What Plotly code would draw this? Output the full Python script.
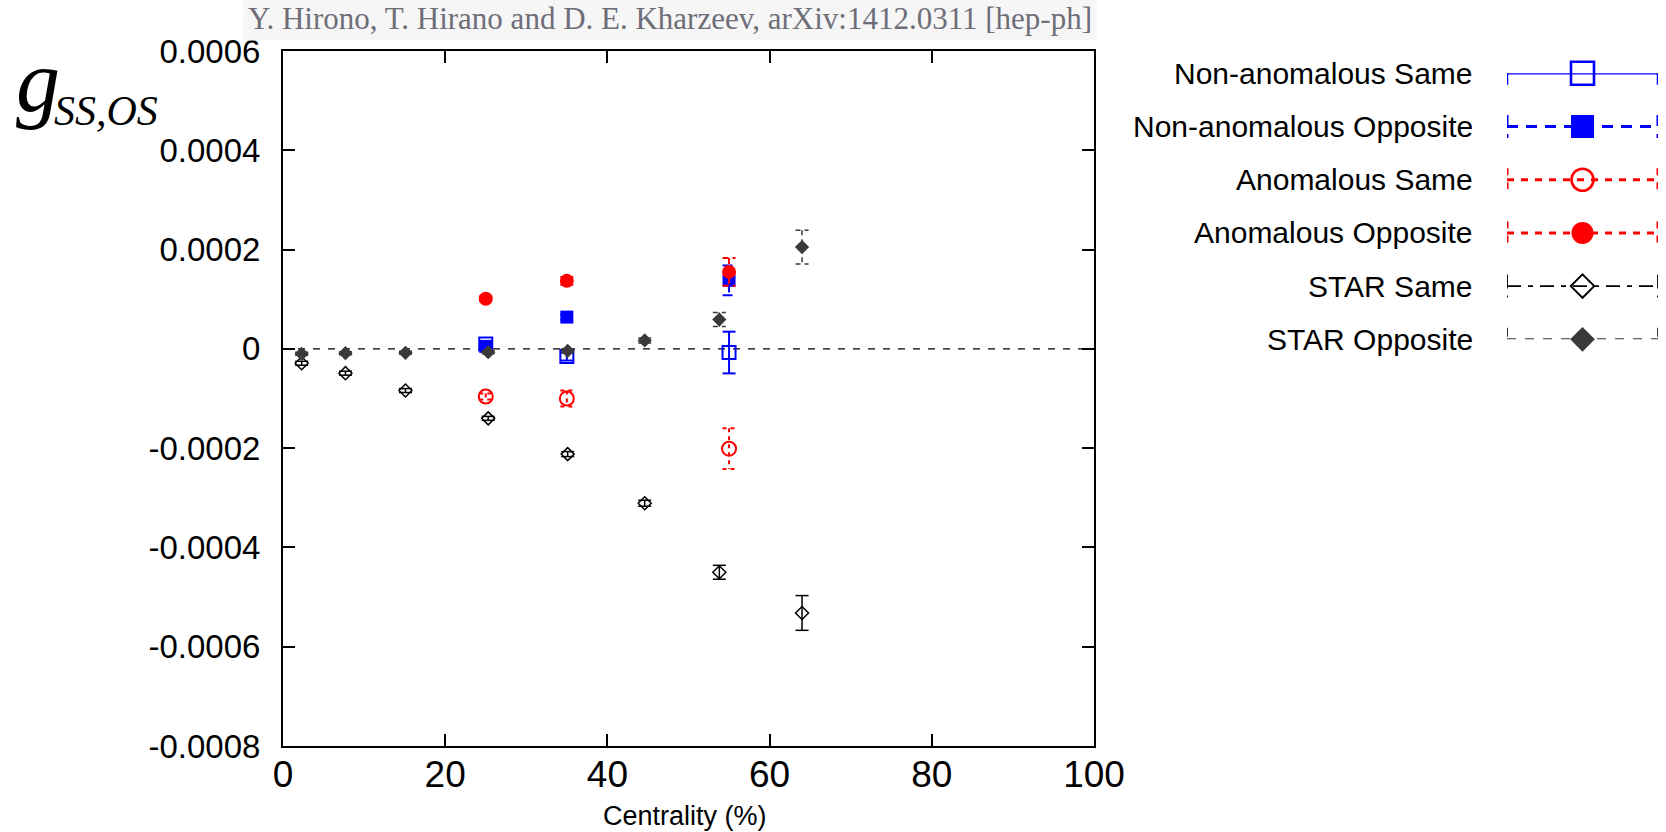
import plotly.graph_objects as go

W, H = 1666, 832

# ---- data -------------------------------------------------------------
star_cent = [2.3, 7.7, 15.1, 25.3, 35.1, 44.6, 53.8, 64.0]
star_same = [-2.9e-5, -4.9e-5, -8.4e-5, -1.40e-4, -2.12e-4, -3.11e-4, -4.50e-4, -5.32e-4]
star_same_err = [4e-6, 4e-6, 4e-6, 4e-6, 5e-6, 6e-6, 1.4e-5, 3.5e-5]
star_opp = [-1.0e-5, -8.7e-6, -8.0e-6, -6.7e-6, -4.0e-6, 1.7e-5, 5.9e-5, 2.05e-4]
star_opp_err = [3e-6, 3e-6, 3e-6, 3e-6, 4e-6, 5e-6, 1.4e-5, 3.4e-5]

model_cent = [25, 35, 55]
nonanom_same = [1.0e-5, -1.55e-5, -7.4e-6]
nonanom_same_err = [5e-6, 8e-6, 4.2e-5]
nonanom_opp = [5e-6, 6.4e-5, 1.38e-4]
nonanom_opp_err = [4e-6, 5e-6, 3.0e-5]
anom_same = [-9.6e-5, -1.0e-4, -2.01e-4]
anom_same_err = [6e-6, 1.6e-5, 4.1e-5]
anom_opp = [1.01e-4, 1.37e-4, 1.55e-4]
anom_opp_err = [5e-6, 8e-6, 2.8e-5]

x_ticks = [0, 20, 40, 60, 80, 100]
y_ticks = [0.0006, 0.0004, 0.0002, 0, -0.0002, -0.0004, -0.0006, -0.0008]
y_ticktext = ["0.0006", "0.0004", "0.0002", "0", "-0.0002", "-0.0004", "-0.0006", "-0.0008"]

title_text = "Y. Hirono, T. Hirano and D. E. Kharzeev, arXiv:1412.0311 [hep-ph]"

# ---- style per series (legend order = draw order) ----------------------
series = [
    dict(name="Non-anomalous Same", x=model_cent, y=nonanom_same, e=nonanom_same_err,
         color="#0000ff", symbol="square-open", size=13, lsize=23, mlw=2,
         edash="solid", ew=2, ldash="solid", lw=2.5),
    dict(name="Non-anomalous Opposite", x=model_cent, y=nonanom_opp, e=nonanom_opp_err,
         color="#0000ff", symbol="square", size=13, lsize=23, mlw=0,
         edash="10px,7px", ew=2, ldash="11px,8px", lw=3),
    dict(name="Anomalous Same", x=model_cent, y=anom_same, e=anom_same_err,
         color="#ff0000", symbol="circle-open", size=14, lsize=22, mlw=2,
         edash="4px,4px", ew=2, ldash="7px,7px", lw=3),
    dict(name="Anomalous Opposite", x=model_cent, y=anom_opp, e=anom_opp_err,
         color="#ff0000", symbol="circle", size=14, lsize=22, mlw=0,
         edash="6px,4px", ew=2, ldash="7px,7px", lw=3),
    dict(name="STAR Same", x=star_cent, y=star_same, e=star_same_err,
         color="#000000", symbol="diamond-open", size=10, lsize=18, mlw=1.5,
         edash="solid", ew=1.5, ldash="14px,7px,5px,7px", lw=1.8),
    dict(name="STAR Opposite", x=star_cent, y=star_opp, e=star_opp_err,
         color="#3a3a3a", symbol="diamond", size=11, lsize=19, mlw=0,
         edash="5px,4px", ew=1.5, ldash="9px,9px", lw=2),
]

# plot area in pixels
PL, PR, PT, PB = 283, 1094, 51, 746
XMIN, XMAX = 0, 100
CAP = 6.5 * (XMAX - XMIN) / (PR - PL)   # half cap width in data units


def err_path(xs, ys, es, cap):
    X, Y = [], []
    for x, y, e in zip(xs, ys, es):
        X += [x - cap, x + cap, None, x, x, None, x - cap, x + cap, None]
        Y += [y + e, y + e, None, y + e, y - e, None, y - e, y - e, None]
    return X, Y


fig = go.Figure()

for s in series:
    ex, ey = err_path(s["x"], s["y"], s["e"], CAP)
    fig.add_trace(go.Scatter(
        x=ex, y=ey, mode="lines", showlegend=False, hoverinfo="skip",
        line=dict(color=s["color"], width=s["ew"], dash=s["edash"]),
        xaxis="x", yaxis="y"))
    fig.add_trace(go.Scatter(
        x=s["x"], y=s["y"], mode="markers", name=s["name"], showlegend=False,
        marker=dict(symbol=s["symbol"], size=s["size"], color=s["color"],
                    line=dict(color=s["color"], width=s["mlw"])),
        xaxis="x", yaxis="y"))

# ---- key drawn on its own axis pair -----------------------------------
KL, KR = 1507, 1658
row_top, row_step = 73.3, 53.2
n = len(series)
KCAP = 11.5 / row_step

for i, s in enumerate(series):
    fig.add_trace(go.Scatter(
        x=[0, 1], y=[i, i], mode="lines", showlegend=False, hoverinfo="skip",
        line=dict(color=s["color"], width=s["lw"], dash=s["ldash"]),
        xaxis="x2", yaxis="y2", cliponaxis=False))
    fig.add_trace(go.Scatter(
        x=[0, 0, None, 1, 1], y=[i - KCAP, i + KCAP, None, i - KCAP, i + KCAP],
        mode="lines", showlegend=False, hoverinfo="skip",
        line=dict(color=s["color"], width=s["lw"], dash=s["ldash"]),
        xaxis="x2", yaxis="y2", cliponaxis=False))
    fig.add_trace(go.Scatter(
        x=[0.5], y=[i], mode="markers", showlegend=False, hoverinfo="skip",
        marker=dict(symbol=s["symbol"], size=s["lsize"], color=s["color"],
                    line=dict(color=s["color"], width=s["mlw"] * 1.3)),
        xaxis="x2", yaxis="y2", cliponaxis=False))

annotations = []
for i, s in enumerate(series):
    annotations.append(dict(
        text=s["name"], xref="paper", yref="paper",
        x=1475 / W, y=1 - (row_top + i * row_step) / H,
        xanchor="right", yanchor="middle", showarrow=False,
        font=dict(family="Liberation Sans, Arial", size=30, color="#000000")))

# header line
annotations.append(dict(
    text=title_text, xref="paper", yref="paper", x=670 / W, y=1 - 18 / H,
    xanchor="center", yanchor="middle", showarrow=False,
    bgcolor="#f6f6f6", borderpad=4,
    font=dict(family="Liberation Serif, Times New Roman", size=31, color="#6e6e78")))

# y-axis symbol g_{SS,OS}
annotations.append(dict(
    text="<i>g</i>", xref="paper", yref="paper", x=38 / W, y=1 - 81 / H,
    xanchor="center", yanchor="middle", showarrow=False,
    font=dict(family="Liberation Serif, Times New Roman", size=88, color="#000000")))
annotations.append(dict(
    text="<i>SS,OS</i>", xref="paper", yref="paper", x=52 / W, y=1 - 111 / H,
    xanchor="left", yanchor="middle", showarrow=False,
    font=dict(family="Liberation Serif, Times New Roman", size=42, color="#000000")))

# x-axis title, sitting on the bottom edge of the figure
annotations.append(dict(
    text="Centrality (%)", xref="paper", yref="paper", x=685 / W, y=0,
    xanchor="center", yanchor="bottom", showarrow=False, borderpad=0,
    font=dict(family="Liberation Sans, Arial", size=27, color="#000000")))

fig.update_layout(
    width=W, height=H,
    margin=dict(l=0, r=0, t=0, b=0, autoexpand=False),
    paper_bgcolor="white", plot_bgcolor="white",
    showlegend=False,
    xaxis=dict(
        domain=[PL / W, PR / W], range=[XMIN, XMAX], autorange=False,
        tickvals=x_ticks, ticktext=[str(v) for v in x_ticks], automargin=False,
        ticks="inside", ticklen=12, tickwidth=1.5, tickcolor="black",
        showline=True, linewidth=2, linecolor="black", mirror="ticks",
        showgrid=False, zeroline=False, ticklabelstandoff=-5,
        tickfont=dict(family="Liberation Sans, Arial", size=37, color="black")),
    yaxis=dict(
        domain=[1 - PB / H, 1 - PT / H], range=[-0.0008, 0.0006], autorange=False,
        tickvals=y_ticks, ticktext=y_ticktext, automargin=False,
        ticks="inside", ticklen=12, tickwidth=1.5, tickcolor="black",
        showline=True, linewidth=2, linecolor="black", mirror="ticks",
        showgrid=False, zeroline=False, ticklabelstandoff=14,
        tickfont=dict(family="Liberation Sans, Arial", size=33, color="black")),
    xaxis2=dict(domain=[KL / W, KR / W], range=[0, 1], autorange=False,
                visible=False, anchor="y2", automargin=False),
    yaxis2=dict(domain=[1 - (row_top + (n - 1) * row_step) / H, 1 - row_top / H],
                range=[n - 1, 0], autorange=False, visible=False, anchor="x2",
                automargin=False),
    annotations=annotations,
    shapes=[dict(type="line", xref="x", yref="y", x0=XMIN, x1=XMAX, y0=0, y1=0,
                 line=dict(color="black", width=1.2, dash="7px,8px"), layer="below")],
)

fig.write_html("out.html")
